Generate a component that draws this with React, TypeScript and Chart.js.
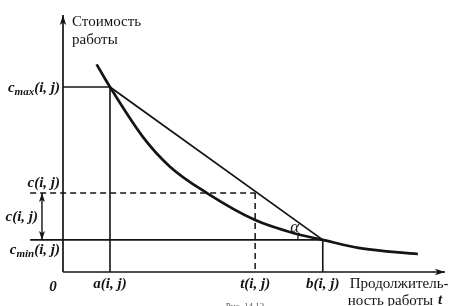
import React, { useEffect, useRef } from "react";
import { Chart, registerables } from "chart.js";

Chart.register(...registerables);

// Duration (x) and cost (y) values in chart units
const curveX = [0.88, 1.23, 2.09, 2.8, 3.78, 5.03, 6.02, 6.8, 7.77, 9.29];
const curveY = [8.08, 7.2, 5.26, 4.1, 3.06, 2.02, 1.52, 1.25, 0.93, 0.7];

const aT = 1.23; // a(i, j)
const tT = 5.03; // t(i, j)
const bT = 6.8; // b(i, j)
const cMax = 7.2; // cmax(i, j)
const cT = 3.07; // c(i, j)
const cMin = 1.25; // cmin(i, j)

const axisXEnd = 10.0;
const axisYEnd = 10.0;
const leftExt = -0.86;
const dimX = -0.55;

const xRange = [-1.649, 10.628];
const yRange = [-1.323, 10.584];

const SERIF = '"Liberation Serif", "DejaVu Serif", serif';
const INK = "#141414";

type Seg = { t: string; sub?: boolean };

function drawSegs(ctx: CanvasRenderingContext2D, segs: Seg[], x: number, y: number, align: "left" | "right" | "center", size: number) {
  const main = `italic bold ${size}px ${SERIF}`;
  const subf = `italic bold ${Math.round(size * 0.7)}px ${SERIF}`;
  let w = 0;
  for (const s of segs) {
    ctx.font = s.sub ? subf : main;
    w += ctx.measureText(s.t).width;
  }
  let cx = align === "left" ? x : align === "right" ? x - w : x - w / 2;
  ctx.textAlign = "left";
  ctx.textBaseline = "alphabetic";
  for (const s of segs) {
    ctx.font = s.sub ? subf : main;
    ctx.fillText(s.t, cx, s.sub ? y + 3 : y);
    cx += ctx.measureText(s.t).width;
  }
}

function arrowHead(ctx: CanvasRenderingContext2D, x: number, y: number, ang: number, len = 10, half = 3.2) {
  ctx.save();
  ctx.translate(x, y);
  ctx.rotate(ang);
  ctx.beginPath();
  ctx.moveTo(0, 0);
  ctx.lineTo(-len, -half);
  ctx.lineTo(-len * 0.75, 0);
  ctx.lineTo(-len, half);
  ctx.closePath();
  ctx.fill();
  ctx.restore();
}

const overlay = {
  id: "overlay",
  afterDatasetsDraw(chart: any) {
    const ctx: CanvasRenderingContext2D = chart.ctx;
    const xs = chart.scales.x;
    const ys = chart.scales.y;
    const px = (v: number) => xs.getPixelForValue(v);
    const py = (v: number) => ys.getPixelForValue(v);
    ctx.save();
    ctx.fillStyle = INK;
    ctx.strokeStyle = INK;

    // axis arrows
    arrowHead(ctx, px(0), py(axisYEnd), -Math.PI / 2);
    arrowHead(ctx, px(axisXEnd), py(0), 0);
    // dimension arrows
    arrowHead(ctx, px(dimX), py(cT), -Math.PI / 2, 9, 3);
    arrowHead(ctx, px(dimX), py(cMin), Math.PI / 2, 9, 3);

    // angle arc at b
    ctx.lineWidth = 1.2;
    ctx.beginPath();
    ctx.arc(px(bT), py(cMin), 25, Math.PI, Math.PI + 0.3);
    ctx.stroke();

    // texts
    ctx.textBaseline = "middle";
    ctx.font = `15px ${SERIF}`;
    ctx.textAlign = "left";
    ctx.fillText("Стоимость", px(0) + 9, 22);
    ctx.fillText("работы", px(0) + 9, 40);
    ctx.fillText("Продолжитель-", px(bT) + 27, py(0) + 12);
    const l2 = "ность работы ";
    const l2x = px(bT) + 25;
    ctx.fillText(l2, l2x, py(0) + 29);
    const l2w = ctx.measureText(l2).width;
    ctx.font = `italic bold 15px ${SERIF}`;
    ctx.fillText("t", l2x + l2w + 1, py(0) + 28);

    const s = 15;
    drawSegs(ctx, [{ t: "c" }, { t: "max", sub: true }, { t: "(i, j)" }], px(0) - 3, py(cMax) + 5, "right", s);
    drawSegs(ctx, [{ t: "c(i, j)" }], px(0) - 3, py(cT) - 6, "right", s);
    drawSegs(ctx, [{ t: "c(i, j)" }], px(dimX) - 4, py((cT + cMin) / 2) + 5, "right", s);
    drawSegs(ctx, [{ t: "c" }, { t: "min", sub: true }, { t: "(i, j)" }], px(0) - 3, py(cMin) + 14, "right", s);
    drawSegs(ctx, [{ t: "0" }], px(0) - 10, py(0) + 19, "center", s);
    drawSegs(ctx, [{ t: "a(i, j)" }], px(aT), py(0) + 16, "center", s);
    drawSegs(ctx, [{ t: "t(i, j)" }], px(tT), py(0) + 16, "center", s);
    drawSegs(ctx, [{ t: "b(i, j)" }], px(bT), py(0) + 16, "center", s);

    ctx.font = `italic 17px ${SERIF}`;
    ctx.textAlign = "center";
    ctx.textBaseline = "middle";
    ctx.fillText("α", px(bT) - 28, py(cMin) - 12);

    ctx.fillStyle = "#555";
    ctx.font = `9px ${SERIF}`;
    ctx.fillText("Рис. 14.12", 245, 307);
    ctx.restore();
  },
};

const line = (pts: { x: number; y: number }[], width: number, dash: number[] = []) => ({
  data: pts,
  showLine: true,
  borderColor: INK,
  borderWidth: width,
  borderDash: dash,
  pointRadius: 0,
  fill: false,
});

export default function App() {
  const ref = useRef<HTMLCanvasElement>(null);
  useEffect(() => {
    if (!ref.current) return;
    const curve = curveX.map((x, i) => ({ x, y: curveY[i] }));
    const chart = new Chart(ref.current, {
      type: "scatter",
      data: {
        datasets: [
          line([{ x: 0, y: 0 }, { x: 0, y: axisYEnd }], 1.7),
          line([{ x: 0, y: 0 }, { x: axisXEnd, y: 0 }], 1.7),
          line([{ x: 0, y: cMax }, { x: aT, y: cMax }], 1.6),
          line([{ x: aT, y: cMax }, { x: aT, y: 0 }], 1.6),
          line([{ x: leftExt, y: cMin }, { x: bT, y: cMin }], 1.6),
          line([{ x: bT, y: cMin }, { x: bT, y: 0 }], 1.6),
          line([{ x: leftExt, y: cT }, { x: tT, y: cT }], 1.5, [6, 4]),
          line([{ x: tT, y: cT }, { x: tT, y: 0 }], 1.5, [6, 4]),
          line([{ x: dimX, y: cT }, { x: dimX, y: cMin }], 1.4),
          line([{ x: aT, y: cMax }, { x: bT, y: cMin }], 1.8),
          { ...line(curve, 2.7), cubicInterpolationMode: "monotone" as const },
        ] as any,
      },
      options: {
        animation: false,
        responsive: false,
        events: [],
        layout: { padding: 0 },
        scales: {
          x: { type: "linear", display: false, min: xRange[0], max: xRange[1] },
          y: { type: "linear", display: false, min: yRange[0], max: yRange[1] },
        },
        plugins: { legend: { display: false }, tooltip: { enabled: false } },
      },
      plugins: [overlay],
    });
    return () => chart.destroy();
  }, []);
  return (
    <div style={{ position: "fixed", left: 0, top: 0, width: 469, height: 306, background: "#fff" }}>
      <canvas ref={ref} width={469} height={306} style={{ width: 469, height: 306, display: "block" }} />
    </div>
  );
}
